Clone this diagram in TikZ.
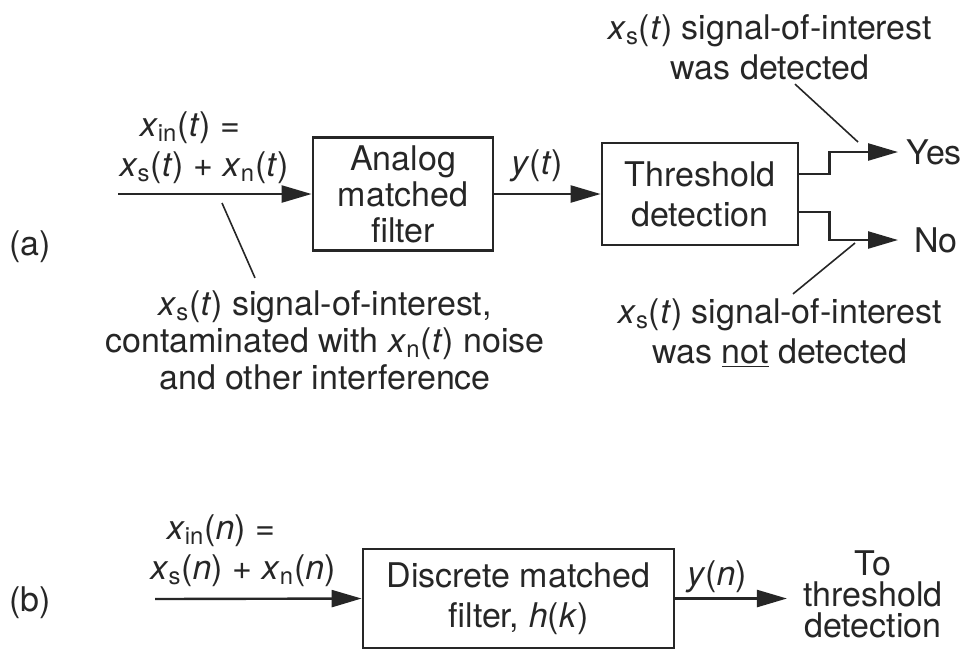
\documentclass[tikz,border=0pt]{standalone}
\usepackage{fontspec}
\setmainfont{TeX Gyre Heros}
\usetikzlibrary{arrows.meta,positioning}
\newcommand{\xsig}[2]{\textit{x}\textsubscript{#1}(\textit{#2})}

\begin{document}
\begin{tikzpicture}[
  x=0.5pt,y=-0.5pt,
  every node/.style={font=\fontsize{17}{20}\selectfont,align=center,
                     text=black!85,inner sep=0pt},
  block/.style={draw=black!85,line width=1.4pt},
  sig/.style={-{Triangle[length=15pt,width=8.5pt]},line width=1.2pt,
              draw=black!85},
  note/.style={line width=0.8pt,draw=black!85}
]
\useasboundingbox (0,0) rectangle (967,650);

% (a) analog matched filter
\node (labela) at (30,247) {(a)};
\node[block,minimum width=90pt,minimum height=56.5pt,
      font=\fontsize{17}{18}\selectfont] (amf) at (403,194)
  {Analog\\matched\\filter};
\node[block,minimum width=98pt,minimum height=51pt] (thr) at (700,194)
  {Threshold\\detection};
\node (ina) at (204,148) {\xsig{in}{t} =\hspace*{14pt}\\\xsig{s}{t} + \xsig{n}{t}};
\node (yt) at (537,166) {\textit{y}(\textit{t})};
\node[anchor=west] (yes) at (906,152) {Yes};
\node[anchor=west] (no) at (914,240) {No};
\node (detnote) at (770,47)
  {\xsig{s}{t} signal-of-interest\\was detected};
\node (nodetnote) at (780,333)
  {\xsig{s}{t} signal-of-interest\\was \underline{not} detected};
\node[font=\fontsize{17}{18.5}\selectfont] (noisenote) at (325,340)
  {\xsig{s}{t} signal-of-interest,\\contaminated with \xsig{n}{t} noise\\and other interference};

\coordinate (ina0) at (118,194);
\coordinate (noisept) at (222,203);
\coordinate (detpt) at (858,142);
\coordinate (nodetpt) at (855,243);

\draw[sig] (ina0) -- (amf.west);
\draw[sig] (amf.east) -- (thr.west);
\draw[sig,shorten >=4pt] ([yshift=10pt]thr.east) -- ++(30,0) |- (yes.west);
\draw[sig,shorten >=8pt] ([yshift=-9pt]thr.east) -- ++(30,0) |- (no.west);
\draw[note] (noisept) -- ([xshift=-35pt,yshift=6pt]noisenote.north);
\draw[note] ([xshift=12.5pt,yshift=-2pt]detnote.south) -- (detpt);
\draw[note] (nodetpt) -- ([xshift=6.5pt,yshift=2pt]nodetnote.north);

% (b) discrete matched filter
\node (labelb) at (30,603) {(b)};
\node[block,minimum width=155.5pt,minimum height=49.5pt] (dmf) at (518.5,598.5)
  {Discrete matched\\filter, \textit{h}(\textit{k})};
\node (inb) at (243,551) {\xsig{in}{n} =\hspace*{22pt}\\\xsig{s}{n} + \xsig{n}{n}};
\node (yn) at (717,577) {\textit{y}(\textit{n})};
\node[font=\fontsize{17}{15.5}\selectfont] (tothr) at (873,594)
  {To\\threshold\\detection};

\coordinate (inb0) at (155,599);
\draw[sig] (inb0) -- (dmf.west);
\draw[sig,shorten >=8pt] (dmf.east) -- (dmf.east -| tothr.west);
\end{tikzpicture}
\end{document}
